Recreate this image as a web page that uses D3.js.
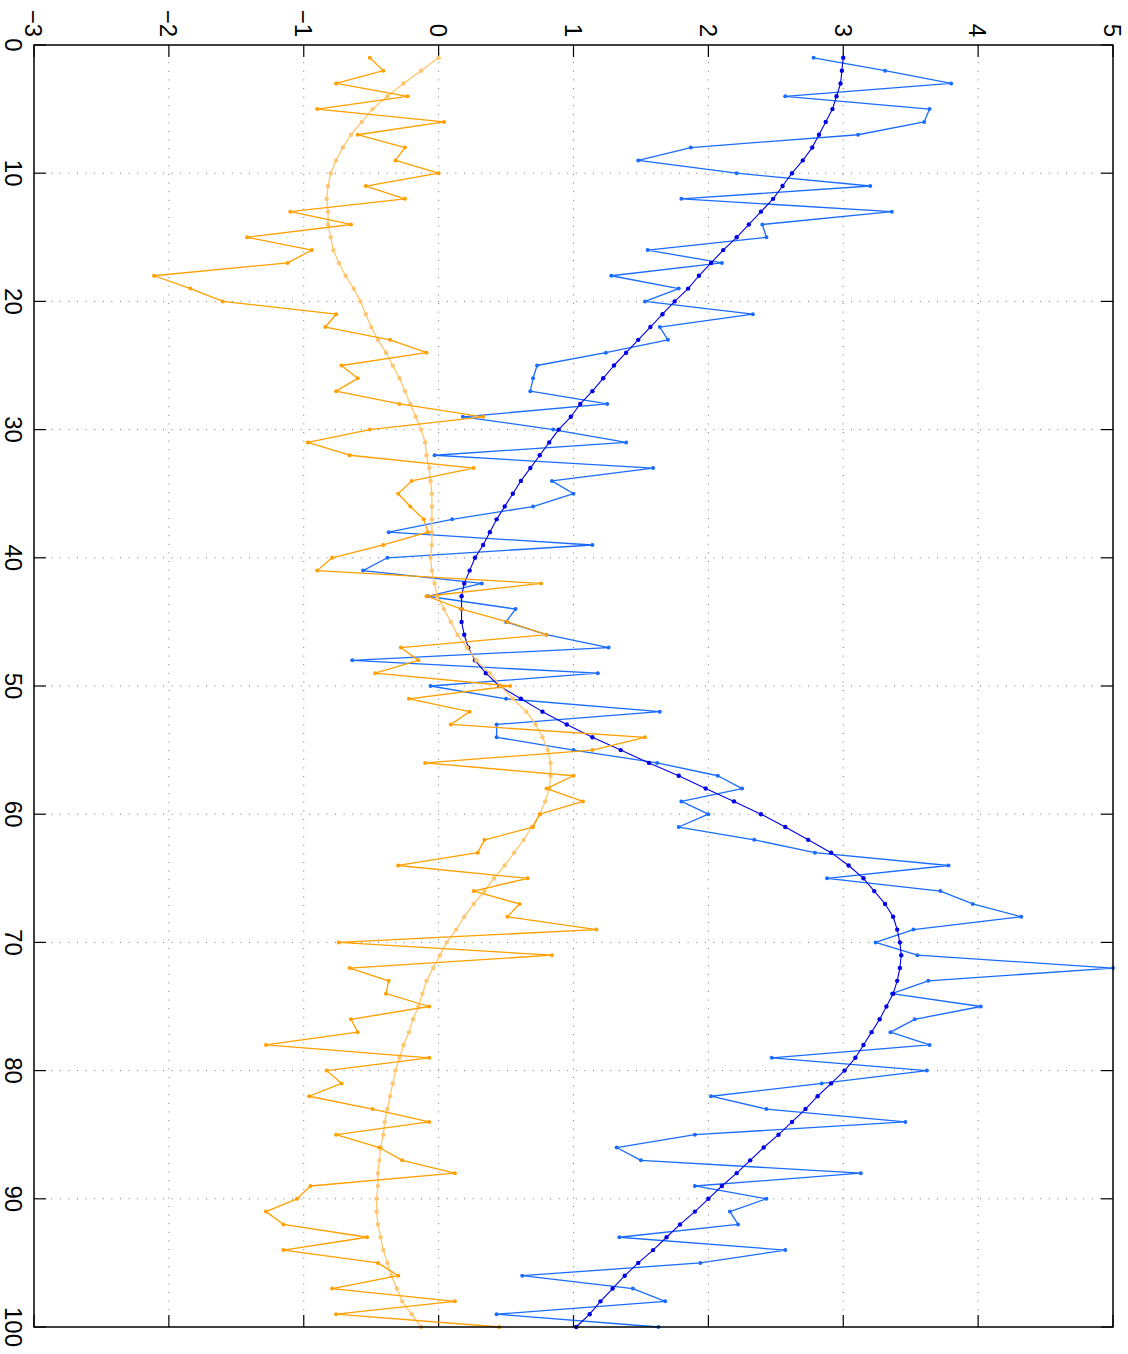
<!DOCTYPE html>
<html>
<head>
<meta charset="utf-8">
<script src="https://cdn.jsdelivr.net/npm/d3@7"></script>
<style>
  body { margin: 0; background: #fff; }
  svg text { font-family: "Liberation Sans Narrow", "Liberation Sans", Arial, sans-serif; }
</style>
</head>
<body>
<svg id="chart" width="1128" height="1354"></svg>
<script>
const xTicks = [-3, -2, -1, 0, 1, 2, 3, 4, 5];
const idxTicks = [0, 10, 20, 30, 40, 50, 60, 70, 80, 90, 100];
const steps = d3.range(1, 101);

const noisyBlue = [2.78, 3.31, 3.80, 2.57, 3.64, 3.60, 3.11, 1.87, 1.48, 2.21,
  3.20, 1.80, 3.36, 2.40, 2.43, 1.55, 2.10, 1.28, 1.78, 1.53,
  2.33, 1.64, 1.70, 1.24, 0.73, 0.70, 0.68, 1.25, 0.18, 0.85,
  1.39, -0.03, 1.59, 0.84, 1.00, 0.70, 0.10, -0.37, 1.14, -0.38,
  -0.56, 0.32, -0.08, 0.57, 0.50, 0.80, 1.26, -0.64, 1.18, -0.06,
  0.50, 1.64, 0.43, 0.43, 1.00, 1.62, 2.07, 2.25, 1.80, 2.00,
  1.78, 2.34, 2.79, 3.78, 2.88, 3.72, 3.96, 4.32, 3.52, 3.24,
  3.55, 5.00, 3.63, 3.36, 4.02, 3.53, 3.35, 3.64, 2.47, 3.62,
  2.84, 2.02, 2.43, 3.46, 1.90, 1.32, 1.50, 3.13, 1.90, 2.43,
  2.16, 2.22, 1.34, 2.57, 1.94, 0.62, 1.44, 1.68, 0.43, 1.63];

const smoothBlue = [3.00, 2.99, 2.98, 2.95, 2.92, 2.87, 2.82, 2.77, 2.70, 2.62,
  2.55, 2.48, 2.39, 2.30, 2.21, 2.11, 2.02, 1.93, 1.85, 1.75,
  1.66, 1.57, 1.48, 1.39, 1.30, 1.22, 1.14, 1.05, 0.98, 0.89,
  0.82, 0.75, 0.68, 0.61, 0.55, 0.49, 0.43, 0.38, 0.33, 0.27,
  0.23, 0.19, 0.17, 0.17, 0.17, 0.19, 0.22, 0.27, 0.35, 0.45,
  0.61, 0.77, 0.95, 1.14, 1.35, 1.56, 1.78, 1.98, 2.19, 2.39,
  2.57, 2.74, 2.91, 3.04, 3.15, 3.23, 3.31, 3.37, 3.40, 3.42,
  3.43, 3.42, 3.40, 3.37, 3.32, 3.27, 3.21, 3.15, 3.09, 3.01,
  2.91, 2.81, 2.72, 2.62, 2.52, 2.41, 2.31, 2.21, 2.10, 2.00,
  1.90, 1.79, 1.69, 1.59, 1.48, 1.38, 1.29, 1.20, 1.12, 1.02];

const noisyOrange = [-0.51, -0.41, -0.76, -0.23, -0.90, 0.04, -0.60, -0.25, -0.32, 0.00,
  -0.54, -0.25, -1.10, -0.65, -1.42, -0.94, -1.12, -2.11, -1.84, -1.60,
  -0.76, -0.84, -0.36, -0.09, -0.72, -0.60, -0.76, -0.29, 0.33, -0.51,
  -0.97, -0.66, 0.26, -0.20, -0.30, -0.21, -0.11, -0.08, -0.41, -0.79,
  -0.90, 0.76, -0.09, 0.17, 0.51, 0.80, -0.28, -0.15, -0.47, 0.53,
  -0.22, 0.23, 0.09, 1.53, 1.14, -0.10, 1.00, 0.80, 1.07, 0.75,
  0.70, 0.34, 0.29, -0.30, 0.66, 0.26, 0.60, 0.51, 1.17, -0.74,
  0.84, -0.66, -0.37, -0.39, -0.07, -0.65, -0.60, -1.28, -0.07, -0.83,
  -0.72, -0.96, -0.49, -0.07, -0.76, -0.44, -0.27, 0.12, -0.95, -1.05,
  -1.28, -1.15, -0.53, -1.15, -0.45, -0.30, -0.79, 0.12, -0.76, 0.45];

const smoothOrange = [0.00, -0.13, -0.26, -0.38, -0.49, -0.57, -0.65, -0.71, -0.76, -0.80,
  -0.82, -0.83, -0.82, -0.82, -0.80, -0.78, -0.74, -0.69, -0.63, -0.58,
  -0.54, -0.50, -0.45, -0.39, -0.34, -0.29, -0.25, -0.21, -0.17, -0.13,
  -0.10, -0.09, -0.07, -0.06, -0.05, -0.05, -0.05, -0.05, -0.05, -0.06,
  -0.05, -0.03, -0.01, 0.04, 0.09, 0.14, 0.21, 0.28, 0.38, 0.46,
  0.55, 0.65, 0.72, 0.77, 0.81, 0.83, 0.83, 0.82, 0.79, 0.75,
  0.69, 0.63, 0.56, 0.49, 0.41, 0.34, 0.26, 0.19, 0.13, 0.06,
  0.01, -0.04, -0.09, -0.12, -0.15, -0.19, -0.22, -0.26, -0.29, -0.32,
  -0.34, -0.36, -0.38, -0.40, -0.41, -0.43, -0.44, -0.45, -0.45, -0.46,
  -0.46, -0.45, -0.43, -0.41, -0.38, -0.35, -0.31, -0.27, -0.20, -0.13];

// the plot is drawn turned a quarter: values run left to right, steps top to bottom
const pLeft = 34, pRight = 1113, pTop = 45, pBottom = 1327;
const x = d3.scaleLinear().domain([-3, 5]).range([pLeft, pRight]);
const y = d3.scaleLinear().domain([0, 100]).range([pTop, pBottom]);
const fontSize = 24;
const tickLen = 12;

const svg = d3.select('#chart');

// dotted grid
const grid = svg.append('g')
  .attr('stroke', '#777')
  .attr('stroke-width', 1)
  .attr('stroke-dasharray', '1,7.6');
grid.selectAll('.gx')
  .data(xTicks.slice(1, -1))
  .join('line')
  .attr('x1', (d) => x(d)).attr('x2', (d) => x(d))
  .attr('y1', pTop).attr('y2', pBottom);
grid.selectAll('.gy')
  .data(idxTicks.slice(1, -1))
  .join('line')
  .attr('y1', (d) => y(d)).attr('y2', (d) => y(d))
  .attr('x1', pLeft).attr('x2', pRight);

// tick marks on all four sides, pointing inward
const ticks = svg.append('g').attr('stroke', '#000').attr('stroke-width', 1.2);
xTicks.forEach((d) => {
  ticks.append('line').attr('x1', x(d)).attr('x2', x(d)).attr('y1', pTop).attr('y2', pTop + tickLen);
  ticks.append('line').attr('x1', x(d)).attr('x2', x(d)).attr('y1', pBottom).attr('y2', pBottom - tickLen);
});
idxTicks.forEach((d) => {
  ticks.append('line').attr('y1', y(d)).attr('y2', y(d)).attr('x1', pLeft).attr('x2', pLeft + tickLen);
  ticks.append('line').attr('y1', y(d)).attr('y2', y(d)).attr('x1', pRight).attr('x2', pRight - tickLen);
});

const fmt = (d) => d < 0 ? '\u2212' + Math.abs(d) : String(d);

// value labels along the top, turned 90 degrees
svg.append('g')
  .selectAll('text')
  .data(xTicks)
  .join('text')
  .attr('transform', (d) => `translate(${x(d) - fontSize * 0.36}, ${pTop - 8}) rotate(90)`)
  .attr('text-anchor', 'end')
  .attr('font-size', fontSize)
  .text(fmt);

// step labels along the left side
svg.append('g')
  .selectAll('text')
  .data(idxTicks)
  .join('text')
  .attr('transform', (d) => `translate(5, ${y(d)}) rotate(90)`)
  .attr('text-anchor', 'middle')
  .attr('font-size', fontSize)
  .text(fmt);

const line = d3.line()
  .x((d) => x(d[1]))
  .y((d) => y(d[0]));

function drawSeries(values, color, width, r) {
  const pts = steps.map((s, i) => [s, values[i]]);
  const g = svg.append('g');
  g.append('path')
    .datum(pts)
    .attr('d', line)
    .attr('fill', 'none')
    .attr('stroke', color)
    .attr('stroke-width', width)
    .attr('stroke-linejoin', 'round');
  g.selectAll('circle')
    .data(pts)
    .join('circle')
    .attr('cx', (d) => x(d[1]))
    .attr('cy', (d) => y(d[0]))
    .attr('r', r)
    .attr('fill', color);
}

drawSeries(noisyBlue, '#1a6cff', 1.3, 2);
drawSeries(smoothBlue, '#0000e6', 1.1, 2.2);
drawSeries(smoothOrange, '#ffc670', 1.3, 2.2);
drawSeries(noisyOrange, '#ff9f00', 1.3, 2);

// frame
svg.append('rect')
  .attr('x', pLeft).attr('y', pTop)
  .attr('width', pRight - pLeft).attr('height', pBottom - pTop)
  .attr('fill', 'none')
  .attr('stroke', '#000')
  .attr('stroke-width', 1.5);
</script>
</body>
</html>
